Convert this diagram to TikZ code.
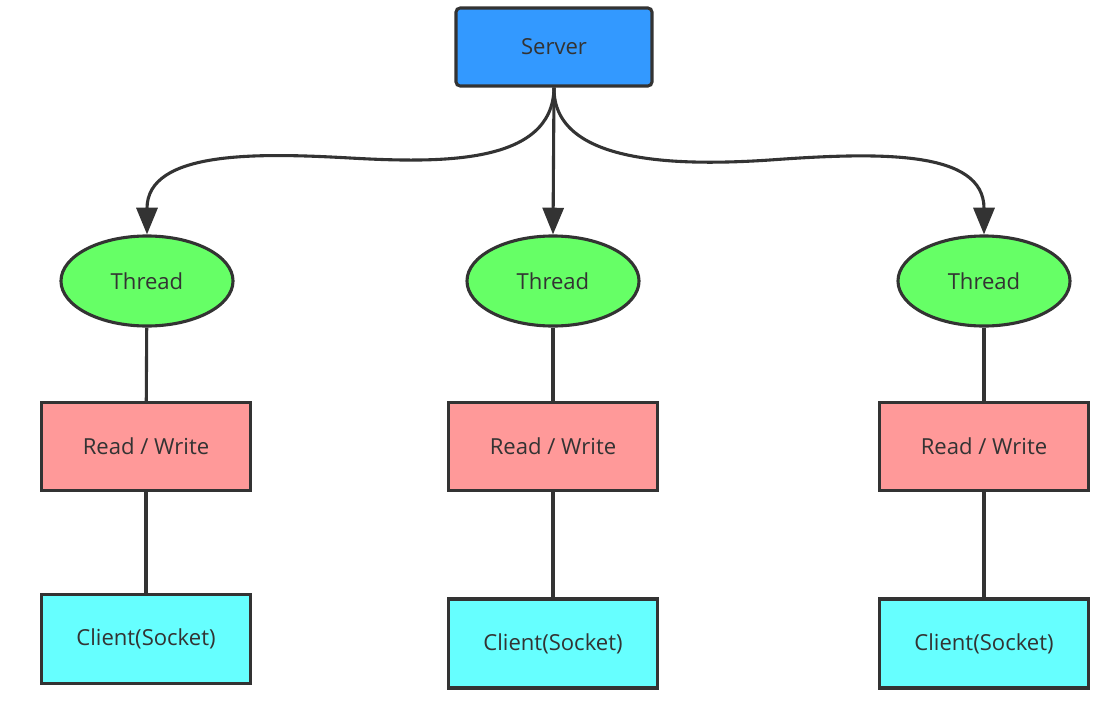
\documentclass[tikz,border=0pt]{standalone}
\usepackage{fontspec}
\setmainfont{Open Sans}
\usetikzlibrary{shapes.geometric,arrows.meta}
\definecolor{linegray}{HTML}{333333}
\definecolor{serverblue}{HTML}{3399FF}
\definecolor{threadgreen}{HTML}{66FF66}
\definecolor{rwred}{HTML}{FF9999}
\definecolor{clientcyan}{HTML}{66FFFF}

\begin{document}
\begin{tikzpicture}[
    x=0.025cm, y=-0.025cm,
    every node/.style={text=linegray, font=\fontsize{15.7}{18}\selectfont},
    server/.style={draw=linegray, line width=2.2pt, rectangle, rounded corners=3pt, minimum width=4.9cm, minimum height=1.95cm, fill=serverblue},
    thread/.style={draw=linegray, line width=2.2pt, ellipse, minimum width=4.3cm, minimum height=2.25cm, fill=threadgreen},
    rw/.style={draw=linegray, line width=2.2pt, rectangle, minimum width=5.225cm, minimum height=2.2cm, fill=rwred},
    client/.style={draw=linegray, line width=2.2pt, rectangle, minimum width=5.225cm, minimum height=2.225cm, fill=clientcyan},
    arrow/.style={-{Triangle[length=19pt, width=15pt]}, draw=linegray, line width=2.2pt},
    link/.style={draw=linegray, line width=2.2pt}
]
\useasboundingbox (0,0) rectangle (1115,709);

% Server
\node[server] (server) at (554,47) {\raisebox{-2pt}{Server}};

% Threads
\node[thread] (t1) at (147,281) {Thread};
\node[thread] (t2) at (553,281) {Thread};
\node[thread] (t3) at (984,281) {Thread};

% Read / Write
\node[rw] (rw1) at (146,446.5) {Read / Write};
\node[rw] (rw2) at (553,446.5) {Read / Write};
\node[rw] (rw3) at (984,446.5) {Read / Write};

% Clients
\node[client] (c1) at (146,639) {Client(Socket)};
\node[client] (c2) at (553,643.5) {Client(Socket)};
\node[client] (c3) at (984,643.5) {Client(Socket)};

% Connections
\draw[arrow] (server.south) .. controls (553,165) and (440,163) .. (350,158)
    .. controls (260,153) and (147,150) .. (t1.north);
\draw[arrow] (server.south) -- (t2.north);
\draw[arrow] (server.south) .. controls (553,165) and (680,166) .. (770,160)
    .. controls (880,152) and (984,150) .. (t3.north);
\draw[link] (t1) -- (rw1);
\draw[link] (t2) -- (rw2);
\draw[link] (t3) -- (rw3);
\draw[link] (rw1) -- (c1);
\draw[link] (rw2) -- (c2);
\draw[link] (rw3) -- (c3);

\end{tikzpicture}
\end{document}
